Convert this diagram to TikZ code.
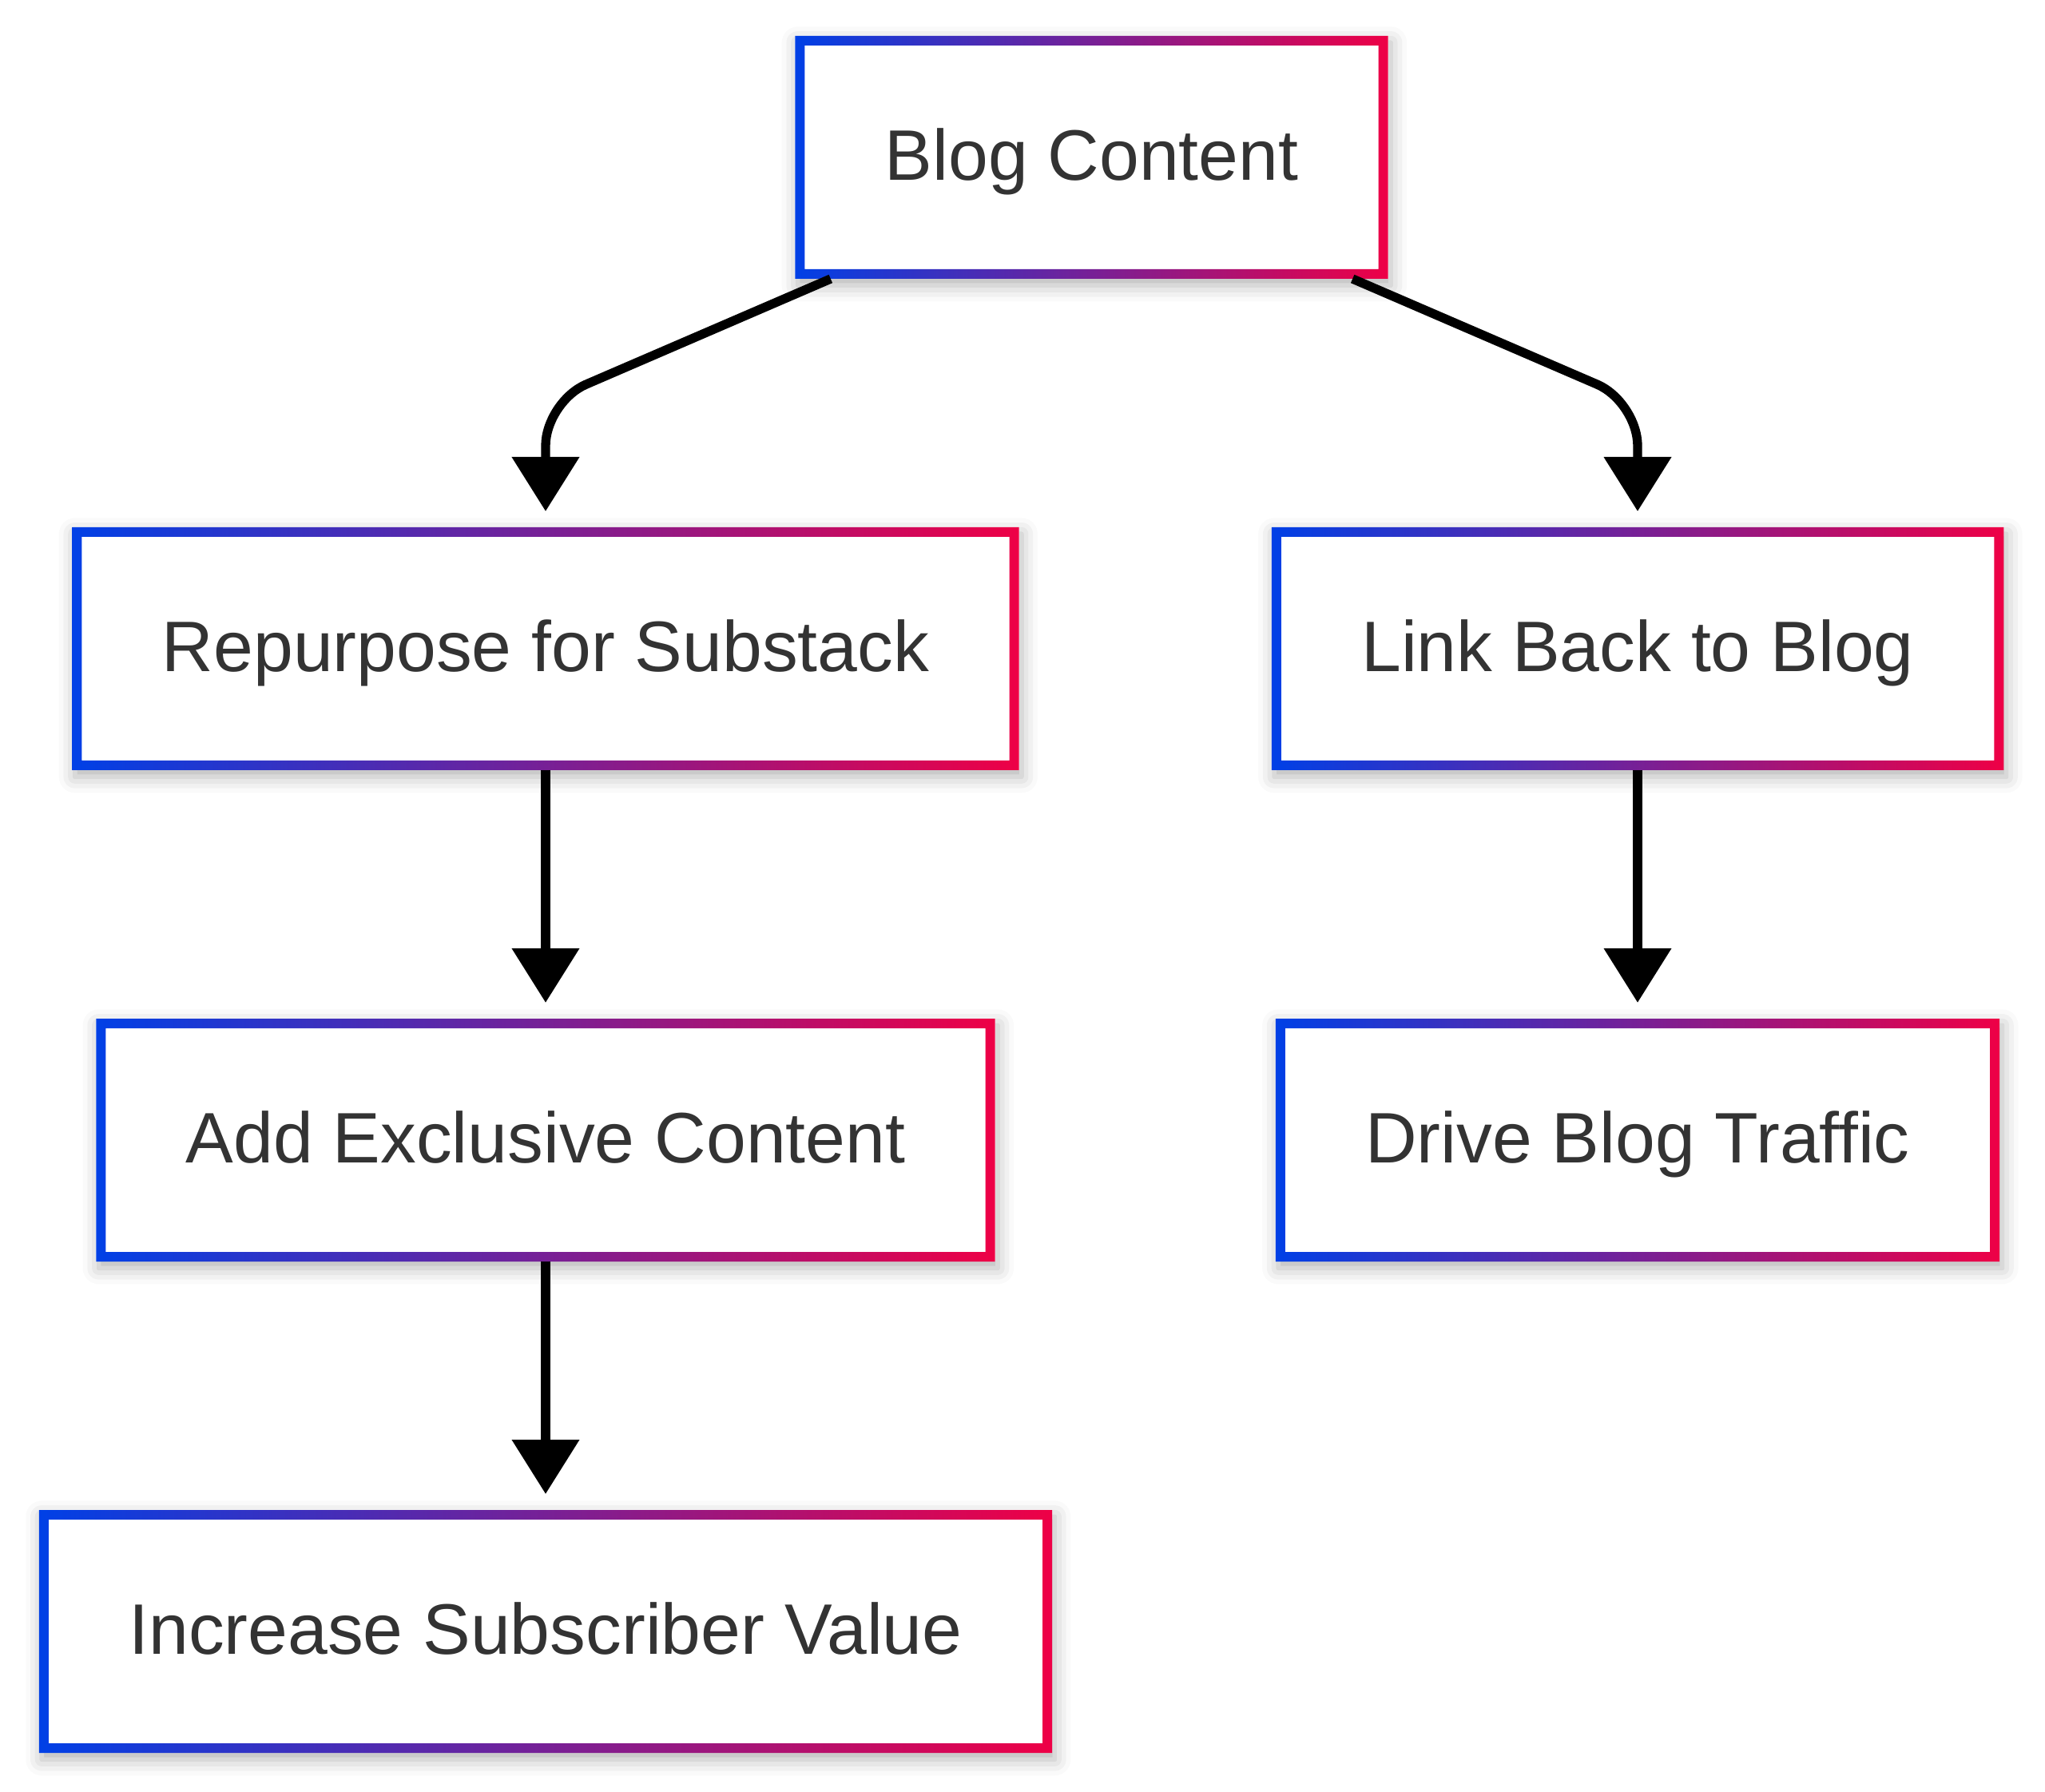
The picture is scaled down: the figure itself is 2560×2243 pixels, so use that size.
\documentclass[tikz,border=0pt]{standalone}
\usepackage{fontspec}
\setmainfont{Liberation Sans}
\usetikzlibrary{arrows.meta,positioning,shadows.blur}
\definecolor{gradblue}{HTML}{0040E6}
\definecolor{gradred}{HTML}{EE0046}
\definecolor{labelgray}{HTML}{333333}

\begin{document}
\begin{tikzpicture}[x=0.3pt,y=-0.3pt]
    \tikzstyle{flowbox}=[rectangle,fill=white,inner xsep=33.75pt,inner ysep=0pt,
                         minimum height=91.2pt,outer sep=0pt,text=labelgray,
                         font=\fontsize{26.85pt}{32pt}\selectfont,
                         text height=22pt,text depth=4.8pt,
                         blur shadow={shadow xshift=1pt,shadow yshift=-2.5pt,
                                      shadow blur radius=6pt,shadow opacity=30}]
    \tikzstyle{flowarrow}=[line width=3.4pt,rounded corners=16.5pt,
                           -{Triangle[width=24.6pt,length=20.4pt]},shorten >=6pt]

    \useasboundingbox (0,0) rectangle (2560,2243);

      \node[flowbox] (blog) at (1366.5,197) {Blog Content};
      \node[flowbox] (repurpose) at (683,812) {Repurpose for Substack};
      \node[flowbox] (link) at (2050,812) {Link Back to Blog};
      \node[flowbox] (addx) at (683,1427) {Add Exclusive Content};
      \node[flowbox] (drive) at (2050,1427) {Drive Blog Traffic};
      \node[flowbox] (increase) at (683,2042) {Increase Subscriber Value};

      % gradient borders
      \foreach \n in {blog,repurpose,link,addx,drive,increase}
        \shade[even odd rule,left color=gradblue,right color=gradred]
          (\n.south west) rectangle (\n.north east)
          ([shift={(3.6pt,3.6pt)}]\n.south west)
            rectangle ([shift={(-3.6pt,-3.6pt)}]\n.north east);

      \coordinate[left=98pt of blog.south] (startl);
      \coordinate[right=98pt of blog.south] (startr);
      \coordinate[above=47.1pt of repurpose.north] (bendl);
      \coordinate[above=47.1pt of link.north] (bendr);

      \draw[flowarrow] (startl) -- (bendl) -- (repurpose);
      \draw[flowarrow] (startr) -- (bendr) -- (link);
      \draw[flowarrow] (repurpose) -- (addx);
      \draw[flowarrow] (addx) -- (increase);
      \draw[flowarrow] (link) -- (drive);
    \end{tikzpicture}
\end{document}
